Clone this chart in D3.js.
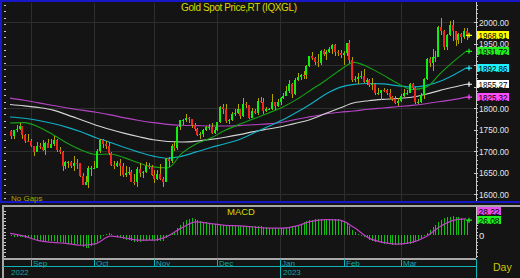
<!DOCTYPE html>
<html>
<head>
<meta charset="utf-8">
<script src="https://cdn.jsdelivr.net/npm/d3@7"></script>
<style>
html, body { margin:0; padding:0; background:#141414; overflow:hidden; }
svg { display:block; font-family:"Liberation Sans", Arial, sans-serif; }
</style>
</head>
<body>
<svg id="chart" width="520" height="278"></svg>
<script>
'use strict'

// daily bars, 22 Aug 2022 .. 31 Mar 2023 (weekdays)
var opens = [1747,1736,1748,1751,1758,1737,1724,1723,
	1711,1697,1712,1710,1702,1718,1708,1716,1725,1702,1697,1664,1675,1675,1664,1673,1671,1643,1622,1629,1660,1660,
	1661,1699,1725,1716,1712,1695,1668,1666,1673,1666,1644,1650,1652,1629,1627,1657,1649,1652,1665,1663,1645,
	1634,1647,1635,1629,1681,1676,1711,1706,1755,1771,1771,1777,1774,1761,1751,1738,1740,1750,1755,1755,1741,1749,
	1768,1803,1798,1769,1771,1787,1789,1797,1781,1810,1807,1777,1793,1788,1817,1814,1792,1798,1798,1813,1804,1815,
	1824,1828,1839,1855,1833,1865,1872,1877,1876,1898,1920,1916,1908,1904,1932,1926,1931,1937,1946,1930,1928,1923,
	1928,1951,1912,1865,1867,1873,1875,1861,1865,1853,1855,1836,1836,1842,1841,1835,1825,1822,1811,1817,
	1827,1836,1836,1856,1847,1813,1815,1831,1868,1914,1905,1919,1919,1989,1978,1941,1970,1993,1978,1957,1973,1964,1980];
var highs = [1748,1750,1761,1765,1758,1740,1740,1729,
	1712,1722,1718,1726,1720,1729,1728,1735,1728,1709,1699,1677,1677,1676,1688,1681,1672,1648,1642,1664,1666,1676,
	1705,1729,1727,1723,1720,1697,1677,1677,1682,1671,1664,1662,1656,1646,1662,1671,1654,1675,1673,1668,1655,
	1655,1669,1639,1684,1685,1717,1722,1758,1772,1775,1786,1780,1774,1766,1753,1745,1752,1758,1763,1764,1755,1768,
	1805,1810,1810,1774,1790,1797,1810,1798,1824,1814,1807,1799,1798,1823,1826,1823,1803,1799,1833,1815,1820,1826,
	1834,1851,1865,1858,1869,1881,1879,1886,1901,1922,1930,1919,1925,1935,1938,1935,1942,1949,1948,1935,1934,1932,
	1951,1959,1919,1875,1882,1885,1891,1870,1868,1870,1859,1847,1843,1847,1845,1844,1828,1827,1824,1832,
	1845,1842,1858,1858,1850,1822,1835,1870,1916,1918,1937,1933,1990,2010,1982,1972,2003,2004,1979,1975,1974,1985,1987];
var lows = [1727,1729,1745,1749,1727,1719,1722,1709,
	1689,1697,1704,1701,1691,1706,1708,1712,1697,1693,1654,1659,1660,1660,1654,1657,1639,1622,1620,1615,1642,1657,
	1660,1696,1707,1704,1690,1664,1659,1662,1642,1640,1640,1645,1627,1621,1617,1639,1638,1650,1657,1641,1626,
	1632,1633,1616,1628,1663,1671,1700,1702,1749,1760,1767,1764,1754,1747,1734,1729,1733,1747,1748,1740,1740,1746,
	1765,1787,1765,1763,1770,1782,1787,1775,1779,1801,1774,1776,1785,1784,1811,1785,1790,1795,1796,1795,1803,1808,
	1822,1828,1836,1824,1830,1862,1866,1867,1868,1895,1911,1899,1896,1900,1922,1911,1927,1926,1920,1920,1916,1900,
	1920,1904,1861,1860,1856,1867,1858,1853,1848,1843,1831,1831,1819,1837,1830,1822,1817,1809,1805,1813,
	1825,1830,1835,1842,1809,1809,1811,1822,1864,1895,1886,1906,1918,1969,1935,1934,1968,1955,1945,1950,1951,1960,1959];
var closes = [1736,1748,1751,1758,1737,1724,1723,1711,
	1697,1712,1710,1702,1718,1708,1716,1725,1702,1697,1664,1675,1675,1664,1673,1671,1643,1622,1629,1660,1660,1661,
	1699,1725,1716,1712,1695,1668,1666,1673,1666,1644,1650,1652,1629,1627,1657,1649,1652,1665,1663,1645,1634,
	1647,1635,1629,1681,1676,1711,1706,1755,1771,1771,1777,1774,1761,1751,1738,1740,1750,1755,1755,1741,1749,1768,
	1803,1798,1769,1771,1787,1789,1797,1781,1810,1807,1777,1793,1788,1817,1814,1792,1798,1798,1813,1804,1815,1824,
	1828,1839,1855,1833,1865,1872,1877,1876,1898,1920,1916,1908,1904,1932,1926,1931,1937,1946,1930,1928,1923,1928,
	1951,1912,1865,1867,1873,1875,1861,1865,1853,1855,1836,1836,1842,1841,1835,1825,1822,1811,1817,1827,
	1836,1836,1856,1847,1813,1815,1831,1868,1914,1905,1919,1919,1989,1978,1941,1970,1993,1978,1957,1973,1964,1980,1968.91];

// moving averages, read every 5th bar
var maIdx = [0,5,10,15,20,25,30,35,40,45,50,55,60,65,70,75,80,85,90,95,100,105,110,115,120,125,130,135,140,145,150,155,159];
var ma20 = [1765,1766,1756,1738,1718,1702,1692,1693,1684,1672,1663,1661,1695,1717,1730,1748,1762,1775,1788,1802,1820,1842,1864,1888,1906,1895,1877,1858,1843,1848,1880,1910,1931.72];
var ma50 = [1779,1776,1771,1764,1755,1744,1731,1720,1708,1697,1688,1683,1688,1698,1708,1717,1727,1742,1757,1772,1790,1810,1832,1848,1855,1857,1856,1852,1849,1852,1862,1878,1892.86];
var ma100 = [1808,1805,1801,1795,1784,1772,1760,1750,1741,1733,1726,1722,1721,1723,1727,1732,1738,1745,1751,1757,1765,1774,1787,1800,1812,1817,1820,1822,1825,1832,1841,1849,1855.27];
var ma200 = [1823,1818,1812,1806,1800,1795,1790,1784,1777,1771,1766,1762,1760,1759,1758,1758,1759,1761,1763,1767,1774,1780,1786,1790,1793,1797,1800,1803,1806,1810,1815,1820,1825.32];

// MACD (bars) and signal (line)
var macd = [-2,-3,-3,-3,-4,-5,-6,-7,
	-9,-10,-10,-11,-11,-11,-10,-10,-12,-13,-14,-14,-15,-15,-15,-16,-18,-21,-23,-22,-20,-17,
	-12,-7,-1,2,3,2,0,-3,-5,-7,-8,-9,-11,-13,-12,-12,-11,-10,-9,-9,-10,
	-10,-10,-10,-5,0,3,6,12,18,23,26,28,29,28,26,24,23,22,21,20,19,18,
	18,18,17,17,17,16,16,16,16,16,15,15,15,15,15,14,14,13,13,12,12,12,
	12,13,14,15,16,18,20,22,24,26,27,28,28,28,28,28,28,28,28,28,27,25,
	21,15,9,5,2,-1,-3,-5,-8,-10,-12,-13,-14,-15,-15,-16,-17,-17,-18,-17,
	-16,-16,-15,-14,-13,-11,-7,-2,3,9,14,18,23,27,29,31,32,33,32,31,30,28,26.08];
var signal = [3,-2,-10,-13,-15,-18,-15,-2,-5,-9,-9,-2,13,23,20,17,16,14,12,12,16,24,27,26,13,-5,-13,-16,-13,-3,15,26,28.22];

var months = ['Sep','Oct','Nov','Dec','Jan','Feb','Mar'];
var monthStart = [8,30,51,73,95,117,137];
var years = ['2022','2023'];
var yearStart = [0,95];
var priceTicks = [1600,1650,1700,1750,1800,1850,1900,1950,2000];

var svg = d3.select('#chart');

var x = d3.scaleLinear().domain([0, closes.length - 1]).range([10, 466]);
var y = d3.scaleLinear().domain([1600, 2000]).range([194, 22]);
var ym = d3.scaleLinear().domain([-40, 40]).range([257.8, 212.2]);

function px(i){ return Math.round(x(i)); }

svg.append('rect').attr('width', 520).attr('height', 278).attr('fill', '#141414');

var defs = svg.append('defs');
defs.append('clipPath').attr('id', 'cmain').append('rect')
	.attr('x', 4).attr('y', 3).attr('width', 472).attr('height', 199);
defs.append('clipPath').attr('id', 'cmacd').append('rect')
	.attr('x', 4).attr('y', 207).attr('width', 472).attr('height', 51);

// grid
var grid = svg.append('g').attr('stroke', '#2e2e2e').attr('shape-rendering', 'crispEdges');
grid.selectAll('line.h').data([1600,1700,1800,1900,2000]).join('line')
	.attr('x1', 4).attr('x2', 476)
	.attr('y1', d => Math.round(y(d)) + 0.5).attr('y2', d => Math.round(y(d)) + 0.5);
grid.selectAll('line.v').data(monthStart).join('line')
	.attr('x1', d => px(d) - 1.5).attr('x2', d => px(d) - 1.5)
	.attr('y1', 3).attr('y2', 202);
grid.selectAll('line.vm').data(monthStart).join('line')
	.attr('x1', d => px(d) - 1.5).attr('x2', d => px(d) - 1.5)
	.attr('y1', 207).attr('y2', 258);

// main panel
var gMain = svg.append('g').attr('clip-path', 'url(#cmain)');

var maLine = d3.line()
	.x(function(d, k){ return x(maIdx[k]); })
	.y(function(d){ return y(d); })
	.curve(d3.curveMonotoneX);

var maList = [
	{ vals: ma200, line: '#b444c4', tag: '#ff4cff' },
	{ vals: ma100, line: '#d4d4d4', tag: '#ffffff' },
	{ vals: ma50, line: '#10b0c4', tag: '#1ef0ff' },
	{ vals: ma20, line: '#14a414', tag: '#1ef01e' }
];
maList.forEach(function(m){
	gMain.append('path')
		.attr('d', maLine(m.vals))
		.attr('fill', 'none')
		.attr('stroke', m.line)
		.attr('stroke-width', 1.1);
});

var bars = closes.map(function(c, i){
	return { i: i, o: opens[i], h: highs[i], l: lows[i], c: c };
});

var cg = gMain.append('g').attr('shape-rendering', 'crispEdges');
cg.selectAll('line').data(bars).join('line')
	.attr('x1', d => px(d.i) + 1).attr('x2', d => px(d.i) + 1)
	.attr('y1', d => y(d.h)).attr('y2', d => y(d.l))
	.attr('stroke', '#b4a400');
cg.selectAll('rect').data(bars).join('rect')
	.attr('x', d => px(d.i))
	.attr('width', 2)
	.attr('y', d => Math.min(y(d.o), y(d.c)))
	.attr('height', d => Math.max(1, Math.abs(y(d.o) - y(d.c))))
	.attr('fill', d => d.c >= d.o ? '#10f010' : '#f42424');

// MACD panel
var gMacd = svg.append('g').attr('clip-path', 'url(#cmacd)');
gMacd.append('g').attr('shape-rendering', 'crispEdges')
	.selectAll('line').data(macd).join('line')
	.attr('x1', (d, i) => px(i) + 1.5).attr('x2', (d, i) => px(i) + 1.5)
	.attr('y1', ym(0)).attr('y2', d => ym(d))
	.attr('stroke', '#10c010');

gMacd.append('path')
	.attr('d', d3.line()
		.x(function(d, k){ return x(maIdx[k]); })
		.y(function(d){ return ym(d); })
		.curve(d3.curveMonotoneX)(signal))
	.attr('fill', 'none')
	.attr('stroke', '#c040c8')
	.attr('stroke-width', 1.2);

// frames
var frame = svg.append('g').attr('shape-rendering', 'crispEdges');
frame.append('rect').attr('x', 0).attr('y', 0).attr('width', 520).attr('height', 2).attr('fill', '#1818c8');
frame.append('rect').attr('x', 0).attr('y', 0).attr('width', 2).attr('height', 203).attr('fill', '#1818c8');
frame.append('rect').attr('x', 0).attr('y', 201).attr('width', 520).attr('height', 2).attr('fill', '#1818c8');
frame.append('rect').attr('x', 2).attr('y', 205).attr('width', 518).attr('height', 2).attr('fill', '#a8a8a8');
frame.append('rect').attr('x', 3).attr('y', 258).attr('width', 473).attr('height', 2).attr('fill', '#a8a8a8');
frame.append('rect').attr('x', 2).attr('y', 205).attr('width', 2).attr('height', 73).attr('fill', '#a8a8a8');
frame.append('line').attr('x1', 476.5).attr('x2', 476.5).attr('y1', 2).attr('y2', 201).attr('stroke', '#c8c8c8');
frame.append('line').attr('x1', 476.5).attr('x2', 476.5).attr('y1', 207).attr('y2', 258).attr('stroke', '#c8c8c8');

// side ticks
function ticks(scale, vals, xPos, len){
	frame.append('g').selectAll('line').data(vals).join('line')
		.attr('x1', xPos).attr('x2', xPos + len)
		.attr('y1', d => Math.round(scale(d)) + 0.5).attr('y2', d => Math.round(scale(d)) + 0.5)
		.attr('stroke', '#c8c8c8');
}
ticks(y, d3.range(1590, 2045, 15), 4, 2);
ticks(y, d3.range(1590, 2045, 10), 476, 2);
ticks(y, priceTicks, 474, 4);
ticks(ym, d3.range(-36, 46, 6), 4, 2);
ticks(ym, d3.range(-36, 46, 6), 476, 2);

var last = closes.length - 1;
var tags = [{ v: closes[last], col: '#ffff00' }].concat(maList.slice().reverse().map(function(m){
	return { v: m.vals[m.vals.length - 1], col: m.tag };
}));

// price labels (the ones sitting under a tag are covered by it)
svg.append('g').selectAll('text')
	.data(priceTicks.filter(function(p){
		return tags.every(function(t){ return Math.abs(y(p) - y(t.v)) > 6; });
	}))
	.join('text')
	.attr('x', 479).attr('y', d => y(d) + 3.5)
	.attr('fill', '#e4e4e4').attr('font-size', '9px')
	.attr('textLength', 30).attr('lengthAdjust', 'spacingAndGlyphs')
	.text(d => d3.format('.2f')(d));

function marker(yPos, col){
	svg.append('path')
		.attr('d', 'M466,' + yPos + 'h6M469,' + (yPos - 2.5) + 'v5')
		.attr('stroke', col).attr('stroke-width', 1.2).attr('fill', 'none');
}

function tag(yPos, txt, col, w){
	svg.append('rect').attr('x', 477).attr('y', Math.round(yPos - 4)).attr('width', w).attr('height', 8)
		.attr('fill', col).attr('shape-rendering', 'crispEdges');
	svg.append('text').attr('x', 478.5).attr('y', Math.round(yPos - 4) + 7.5)
		.attr('fill', '#000').attr('font-size', '9px')
		.attr('textLength', w - 3).attr('lengthAdjust', 'spacingAndGlyphs')
		.text(txt);
}

tags.forEach(function(t){
	marker(y(t.v), t.col);
	tag(y(t.v), d3.format('.2f')(t.v), t.col, 32);
});

// macd labels, stacked from the bottom up
var mtags = [
	{ v: macd[last], col: '#1ef01e' },
	{ v: signal[signal.length - 1], col: '#e84ce8' }
];
var prev = 999;
mtags.forEach(function(t){
	var yy = Math.min(ym(t.v), prev - 9);
	prev = yy;
	tag(yy, d3.format('.2f')(t.v), t.col, 24);
});
marker(ym(macd[last]), '#1ef01e');

svg.append('text').attr('x', 479).attr('y', ym(0) + 3.5)
	.attr('fill', '#e4e4e4').attr('font-size', '9.5px').text('0');

// titles
svg.append('text').attr('x', 181).attr('y', 11)
	.attr('fill', '#d8d800').attr('font-size', '10px')
	.attr('textLength', 116).attr('lengthAdjust', 'spacing')
	.text('Gold Spot Price,RT (IQXGL)');
svg.append('text').attr('x', 227).attr('y', 215)
	.attr('fill', '#d8d800').attr('font-size', '9.5px').text('MACD');
svg.append('text').attr('x', 11).attr('y', 201)
	.attr('fill', '#a8a800').attr('font-size', '8px').text('No Gaps');
svg.append('text').attr('x', 493).attr('y', 271)
	.attr('fill', '#c8c800').attr('font-size', '10.5px').text('Day');

// time axis
var ta = svg.append('g').attr('shape-rendering', 'crispEdges');
ta.append('line').attr('x1', 3).attr('x2', 476).attr('y1', 266.5).attr('y2', 266.5).attr('stroke', '#10b4b4');
ta.append('line').attr('x1', 476.5).attr('x2', 476.5).attr('y1', 259).attr('y2', 278).attr('stroke', '#10b4b4');
ta.selectAll('line.m').data(monthStart).join('line')
	.attr('x1', d => px(d) - 1.5).attr('x2', d => px(d) - 1.5)
	.attr('y1', 259).attr('y2', d => yearStart.indexOf(d) >= 0 ? 278 : 266)
	.attr('stroke', '#10b4b4');
svg.append('g').selectAll('text').data(months).join('text')
	.attr('x', (d, k) => px(monthStart[k]))
	.attr('y', 265.5)
	.attr('fill', '#10a8a8').attr('font-size', '8px')
	.text(d => d);
svg.append('g').selectAll('text').data(years).join('text')
	.attr('x', (d, k) => px(yearStart[k]) + 1)
	.attr('y', 274.5)
	.attr('fill', '#10a8a8').attr('font-size', '8px')
	.text(d => d);
</script>
</body>
</html>
